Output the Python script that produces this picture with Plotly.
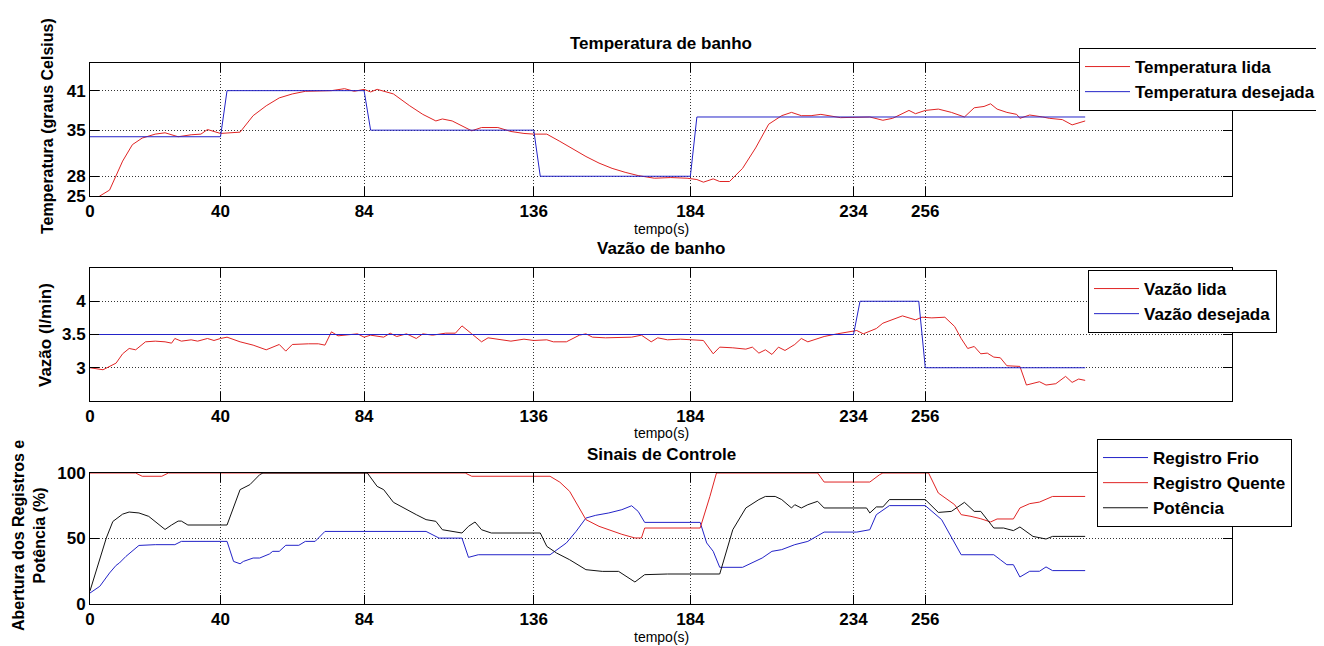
import plotly.graph_objects as go

W, H = 1324, 646
OFF = 8  # default body margin of the html page
FW, FH = W - OFF, H - OFF

# ---- Temperatura de banho ----
t_temp_lida = [0, 3, 6, 10, 13, 16, 20, 23, 27, 31, 34, 36, 40, 42, 46, 50, 54, 58, 62, 66,
               70, 74, 78, 81, 84, 86, 88, 93, 98, 102, 106, 108, 111, 117, 120, 125, 129, 133,
               136, 140, 144, 148, 152, 156, 160, 164, 168, 173, 178, 183, 186, 188, 191, 193,
               196, 200, 204, 208, 212, 215, 218, 221, 224, 230, 234, 239, 243, 246, 251, 253,
               256, 260, 264, 268, 271, 274, 276, 278, 281, 284, 285, 288, 292, 294, 298, 301, 305]
temp_lida = [23.6, 25.0, 25.9, 30.3, 32.8, 33.8, 34.4, 34.6, 34.0, 34.3, 34.4, 35.1, 34.5, 34.6,
             34.7, 37.2, 38.7, 39.9, 40.5, 40.9, 40.9, 41.0, 41.3, 40.9, 41.2, 40.8, 41.2, 40.5,
             38.7, 37.4, 36.4, 36.7, 36.4, 34.9, 35.4, 35.4, 34.8, 34.5, 34.4, 34.4, 33.3, 32.1,
             31.0, 30.0, 29.2, 28.6, 28.1, 27.7, 27.8, 27.7, 27.5, 27.1, 27.6, 27.2, 27.2, 29.2,
             32.3, 35.9, 37.2, 37.7, 37.2, 37.2, 37.4, 36.9, 36.9, 37.0, 36.5, 36.8, 38.0, 37.5,
             38.0, 38.2, 37.7, 37.0, 38.4, 38.6, 39.0, 38.2, 37.7, 37.4, 36.8, 37.3, 37.0, 36.8,
             36.6, 35.8, 36.4]
t_temp_desej = [0, 40, 42, 84, 86, 136, 138, 184, 186, 305]
temp_desej = [34, 34, 41, 41, 35, 35, 28, 28, 37, 37]

# ---- Vazao de banho ----
t_vazao_lida = [0, 2, 4, 8, 10, 12, 14, 17, 20, 23, 25, 26, 28, 31, 33, 36, 38, 40, 42, 46, 50,
                54, 58, 60, 62, 67, 70, 72, 74, 76, 79, 82, 84, 86, 90, 92, 94, 97, 100, 102, 105,
                109, 112, 114, 117, 120, 122, 126, 129, 133, 136, 140, 142, 146, 150, 152, 154,
                158, 162, 166, 169, 172, 174, 177, 181, 185, 188, 191, 193, 197, 201, 203, 205,
                207, 209, 211, 213, 216, 218, 220, 225, 229, 233, 235, 237, 241, 243, 245, 249,
                253, 255, 258, 262, 265, 267, 269, 271, 273, 275, 277, 279, 281, 285, 287, 291,
                293, 296, 299, 301, 303, 305]
vazao_lida = [3.00, 2.99, 2.97, 3.07, 3.21, 3.29, 3.27, 3.39, 3.40, 3.39, 3.37, 3.44, 3.40, 3.42,
              3.40, 3.44, 3.41, 3.44, 3.46, 3.39, 3.34, 3.27, 3.35, 3.25, 3.35, 3.36, 3.36, 3.34,
              3.54, 3.48, 3.49, 3.51, 3.46, 3.49, 3.46, 3.52, 3.47, 3.51, 3.44, 3.51, 3.49, 3.52,
              3.52, 3.63, 3.51, 3.39, 3.45, 3.42, 3.40, 3.43, 3.41, 3.42, 3.39, 3.39, 3.49, 3.51,
              3.46, 3.45, 3.46, 3.46, 3.49, 3.39, 3.45, 3.42, 3.43, 3.42, 3.41, 3.21, 3.31, 3.30,
              3.28, 3.31, 3.22, 3.27, 3.20, 3.31, 3.26, 3.35, 3.44, 3.39, 3.47, 3.51, 3.54, 3.56,
              3.51, 3.59, 3.67, 3.71, 3.78, 3.72, 3.76, 3.75, 3.76, 3.62, 3.44, 3.29, 3.32, 3.21,
              3.22, 3.16, 3.15, 3.03, 3.02, 2.74, 2.79, 2.74, 2.76, 2.87, 2.78, 2.83, 2.81]
t_vazao_desej = [0, 234, 236, 254, 256, 305]
vazao_desej = [3.5, 3.5, 4, 4, 3, 3]

# ---- Sinais de Controle ----
t_frio = [0, 3, 6, 8, 9, 11, 15, 20, 26, 28, 42, 44, 46, 47, 50, 52, 55, 56, 58, 60, 64, 66, 69,
          72, 103, 107, 114, 116, 119, 141, 146, 149, 152, 155, 159, 163, 166, 168, 170, 187, 189,
          191, 193, 200, 206, 209, 212, 216, 220, 225, 235, 239, 241, 244, 245, 256, 261, 267,
          277, 279, 281, 283, 285, 288, 291, 293, 295, 305]
reg_frio = [8.4, 13.5, 23.7, 29.5, 31.3, 36.3, 44.7, 45.3, 45.3, 47.8, 47.8, 32.5, 30.7, 32.5,
            35.1, 35.1, 38.2, 40.2, 40.2, 44.8, 44.8, 47.8, 47.8, 55.4, 55.4, 50.3, 50.3, 35.6,
            37.6, 37.6, 46.6, 55.5, 65.6, 67.7, 69.5, 72.0, 75.0, 70.7, 62.3, 62.3, 46.6, 40.2,
            28.0, 28.0, 35.1, 40.2, 41.5, 45.3, 47.8, 54.9, 54.9, 56.7, 68.2, 73.3, 75.1, 75.1,
            64.4, 37.6, 37.6, 33.8, 30.0, 30.0, 20.6, 25.0, 25.0, 28.3, 25.5, 25.5]
t_quente = [0, 14, 16, 22, 24, 115, 117, 141, 144, 147, 152, 156, 163, 167, 169, 170, 187, 189,
            190, 192, 223, 225, 239, 242, 243, 257, 260, 265, 267, 270, 273, 276, 278, 283, 285,
            288, 291, 295, 305]
reg_quente = [100, 100, 97.5, 97.5, 100, 100, 97.5, 97.5, 93, 86, 64.4, 59.3, 53.2, 50.4, 50.4,
              58, 58, 73.3, 82.2, 100, 100, 93.1, 93.1, 98.7, 100, 100, 84.7, 75.8, 68.2, 66.9,
              65.1, 62.6, 64.9, 64.9, 73.3, 76.6, 77.8, 82.1, 82.1]
t_potencia = [0, 3, 5, 7, 10, 12, 15, 18, 20, 23, 25, 27, 28, 30, 42, 46, 49, 52, 53, 85, 88, 90,
              93, 96, 100, 103, 106, 108, 111, 114, 116, 118, 120, 123, 138, 140, 143, 147, 152,
              157, 162, 164, 167, 170, 177, 193, 195, 197, 201, 205, 207, 210, 212, 215, 216, 218,
              220, 223, 225, 238, 239, 241, 243, 245, 256, 260, 264, 268, 271, 273, 277, 280, 283,
              285, 289, 293, 295, 305]
potencia = [10, 33.8, 50.4, 63, 68.6, 70.2, 69.5, 66.9, 63.1, 56.9, 60.3, 63.3, 63.3, 60.3, 60.3,
            87.3, 91.1, 98.7, 100, 100, 89.8, 87.3, 77.6, 73.3, 68.2, 64.4, 63.1, 56.7, 55.5, 54.2,
            59.3, 62.6, 56.7, 54.2, 54.2, 44.0, 38.9, 33.8, 26.2, 24.9, 24.9, 21.6, 16.8, 22.4,
            22.9, 22.9, 38.9, 56.7, 73.3, 79.7, 82.1, 82.1, 79.7, 73.3, 75.8, 73.3, 75.8, 78.4,
            73.3, 73.3, 69.5, 74.1, 74.1, 79.7, 79.7, 69.9, 70.7, 77.6, 70.7, 70.7, 58, 58, 56,
            58.8, 51.6, 49.6, 51.6, 51.6]

x_ticks = [0, 40, 84, 136, 184, 234, 256]
temp_ticks = [25, 28, 35, 41]
vazao_ticks = [3, 3.5, 4]
ctrl_ticks = [0, 50, 100]

RED = '#e02424'
BLUE = '#2323c8'
BLACK = '#111111'
FONT = 'Liberation Sans'


def fx(p):  # page pixel -> paper (x)
    return (p - OFF) / FW


def fy(p):  # page pixel -> paper (y)
    return 1 - (p - OFF) / FH


fig = go.Figure()
#Temperatura
fig.add_trace(go.Scatter(x=t_temp_lida, y=temp_lida, name='Temperatura lida', mode='lines',
                         line=dict(color=RED, width=1), xaxis='x', yaxis='y', legend='legend'))
fig.add_trace(go.Scatter(x=t_temp_desej, y=temp_desej, name='Temperatura desejada', mode='lines',
                         line=dict(color=BLUE, width=1), xaxis='x', yaxis='y', legend='legend'))
#Vazao
fig.add_trace(go.Scatter(x=t_vazao_lida, y=vazao_lida, name='Vazão lida', mode='lines',
                         line=dict(color=RED, width=1), xaxis='x2', yaxis='y2', legend='legend2'))
fig.add_trace(go.Scatter(x=t_vazao_desej, y=vazao_desej, name='Vazão desejada', mode='lines',
                         line=dict(color=BLUE, width=1), xaxis='x2', yaxis='y2', legend='legend2'))
#Controle
fig.add_trace(go.Scatter(x=t_frio, y=reg_frio, name='Registro Frio', mode='lines',
                         line=dict(color=BLUE, width=1), xaxis='x3', yaxis='y3', legend='legend3'))
fig.add_trace(go.Scatter(x=t_quente, y=reg_quente, name='Registro Quente', mode='lines',
                         line=dict(color=RED, width=1), xaxis='x3', yaxis='y3', legend='legend3'))
fig.add_trace(go.Scatter(x=t_potencia, y=potencia, name='Potência', mode='lines',
                         line=dict(color=BLACK, width=1), xaxis='x3', yaxis='y3', legend='legend3'))

tickfont = dict(family=FONT, size=17, color='black', weight='bold')
axis_common = dict(showline=True, linecolor='black', linewidth=1, mirror='ticks',
                   ticks='inside', ticklen=9, tickcolor='black', tickwidth=1,
                   showgrid=True, gridcolor='#333333', griddash='1px,2px', gridwidth=1,
                   zeroline=False, tickfont=tickfont)
xdom = [fx(90), fx(1232)]
panels = [(63, 196), (268, 401), (473, 604)]

fig.update_layout(
    width=FW, height=FH,
    margin=dict(l=0, r=0, t=0, b=0, autoexpand=False),
    paper_bgcolor='white', plot_bgcolor='white',
    xaxis=dict(domain=xdom, range=[0, 350], tickvals=x_ticks, anchor='y', **axis_common),
    yaxis=dict(domain=[fy(panels[0][1]), fy(panels[0][0])], range=[25, 45.2],
               tickvals=temp_ticks, anchor='x', **axis_common),
    xaxis2=dict(domain=xdom, range=[0, 350], tickvals=x_ticks, anchor='y2', **axis_common),
    yaxis2=dict(domain=[fy(panels[1][1]), fy(panels[1][0])], range=[2.5, 4.5],
                tickvals=vazao_ticks, ticktext=['3', '3.5', '4'], anchor='x2', **axis_common),
    xaxis3=dict(domain=xdom, range=[0, 350], tickvals=x_ticks, anchor='y3', **axis_common),
    yaxis3=dict(domain=[fy(panels[2][1]), fy(panels[2][0])], range=[0, 100],
                tickvals=ctrl_ticks, anchor='x3', **axis_common),
)

legend_common = dict(bgcolor='white', bordercolor='black', borderwidth=1,
                     font=dict(family=FONT, size=17, color='black', weight='bold'),
                     xanchor='left', yanchor='top', tracegroupgap=0, itemwidth=45)
fig.update_layout(
    legend=dict(x=fx(1079), y=fy(48), **legend_common),
    legend2=dict(x=fx(1088), y=fy(270), **legend_common),
    legend3=dict(x=fx(1097), y=fy(439), **legend_common),
)

cx = (90 + 1232) / 2
ann = []
titles = [('Temperatura de banho', 44), ('Vazão de banho', 249), ('Sinais de Controle', 454)]
for txt, yp in titles:
    ann.append(dict(text=txt, x=fx(cx), y=fy(yp), xref='paper', yref='paper', showarrow=False,
                    xanchor='center', yanchor='middle',
                    font=dict(family=FONT, size=17, color='black', weight='bold')))
for yp in [229, 433, 637]:
    ann.append(dict(text='tempo(s)', x=fx(cx), y=fy(yp), xref='paper', yref='paper',
                    showarrow=False, xanchor='center', yanchor='middle',
                    font=dict(family=FONT, size=14, color='black')))
ylabels = [('Temperatura (graus Celsius)', 48, 126, 16),
           ('Vazão (l/min)', 46, 335, 17),
           ('Abertura dos Registros e<br>Potência (%)', 29, 536, 16)]
for txt, xp, yp, fs in ylabels:
    ann.append(dict(text=txt, x=fx(xp), y=fy(yp), xref='paper', yref='paper', showarrow=False,
                    xanchor='center', yanchor='middle', textangle=-90,
                    font=dict(family=FONT, size=fs, color='black', weight='bold')))
fig.update_layout(annotations=ann)

fig.write_html("out.html")
